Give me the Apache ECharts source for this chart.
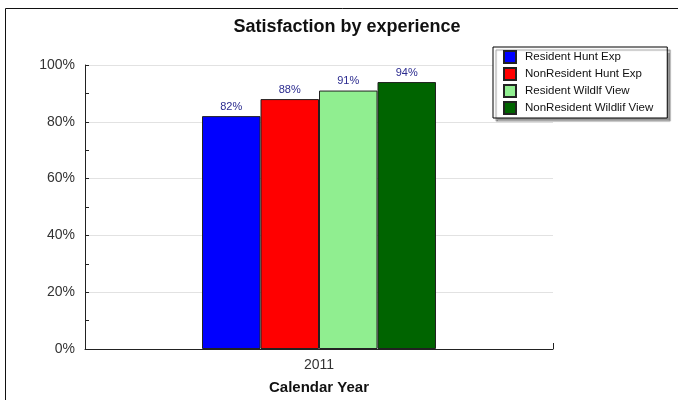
<!DOCTYPE html>
<html>
<head>
<meta charset="utf-8">
<script src="https://cdn.jsdelivr.net/npm/echarts@6/dist/echarts.min.js"></script>
<style>
html,body{margin:0;padding:0;background:#fff;}
#chart{width:678px;height:400px;}
</style>
</head>
<body>
<div id="chart"></div>
<script>
const categories = ['2011'];
const seriesNames = ['Resident Hunt Exp', 'NonResident Hunt Exp', 'Resident Wildlf View', 'NonResident Wildlif View'];
const residentHunt = [82];
const nonResidentHunt = [88];
const residentWildlf = [91];
const nonResidentWildlf = [94];
const seriesColors = ['#0000FF', '#FF0000', '#90EE90', '#006400'];
const yTicks = [0, 20, 40, 60, 80, 100];

const values = [residentHunt, nonResidentHunt, residentWildlf, nonResidentWildlf];

const chart = echarts.init(document.getElementById('chart'), null, {renderer: 'canvas'});
chart.setOption({
  animation: false,
  backgroundColor: '#fff',
  title: {
    text: 'Satisfaction by experience',
    left: 347,
    textAlign: 'center',
    top: 18,
    padding: 0,
    textStyle: {fontFamily: 'Liberation Sans', fontSize: 18, fontWeight: 'bold', color: '#111'}
  },
  legend: {
    orient: 'vertical',
    left: 493,
    top: 47,
    padding: [3, 14, 3, 10],
    itemWidth: 12,
    itemHeight: 12,
    itemGap: 3,
    backgroundColor: '#fff',
    borderColor: '#000',
    borderWidth: 1,
    borderRadius: 0,
    shadowColor: 'rgba(0,0,0,0.4)',
    shadowBlur: 1,
    shadowOffsetX: 3,
    shadowOffsetY: 3,
    icon: 'rect',
    textStyle: {fontFamily: 'Liberation Sans', fontSize: 11.5, color: '#111', padding: [0, 0, 0, 4]},
    data: seriesNames
  },
  grid: {left: 85, width: 468, top: 65, height: 286, containLabel: false},
  xAxis: {
    type: 'category',
    data: categories,
    boundaryGap: true,
    axisLine: {lineStyle: {color: '#222', width: 1}},
    axisTick: {show: true, inside: true, length: 6, lineStyle: {color: '#222'}},
    axisLabel: {fontFamily: 'Liberation Sans', fontSize: 14, color: '#333', margin: 9},
    name: 'Calendar Year',
    nameLocation: 'middle',
    nameGap: 31,
    nameTextStyle: {fontFamily: 'Liberation Sans', fontSize: 15, fontWeight: 'bold', color: '#111'}
  },
  yAxis: {
    type: 'value',
    min: yTicks[0],
    max: yTicks[yTicks.length - 1],
    interval: 20,
    axisLine: {show: true, lineStyle: {color: '#222', width: 1}},
    axisTick: {show: true, inside: true, length: 4, lineStyle: {color: '#222'}},
    minorTick: {show: true, splitNumber: 2, length: 4, lineStyle: {color: '#222'}},
    axisLabel: {fontFamily: 'Liberation Sans', fontSize: 14, color: '#333', margin: 10, formatter: '{value}%'},
    splitLine: {show: true, lineStyle: {color: '#e2e2e2', width: 1}}
  },
  graphic: [{
    type: 'rect',
    silent: true,
    z: -1,
    shape: {x: 5.5, y: 8.5, width: 900, height: 600},
    style: {fill: 'none', stroke: '#111', lineWidth: 1}
  }],
  series: seriesNames.map((name, i) => ({
    name: name,
    type: 'bar',
    data: values[i],
    barGap: '0%',
    barCategoryGap: '50%',
    itemStyle: {color: seriesColors[i], borderColor: '#222', borderWidth: 1},
    label: {
      show: true,
      position: 'top',
      distance: 4,
      formatter: '{c}%',
      fontFamily: 'Liberation Sans',
      fontSize: 11,
      color: '#2b2b8f'
    }
  }))
});
</script>
</body>
</html>
